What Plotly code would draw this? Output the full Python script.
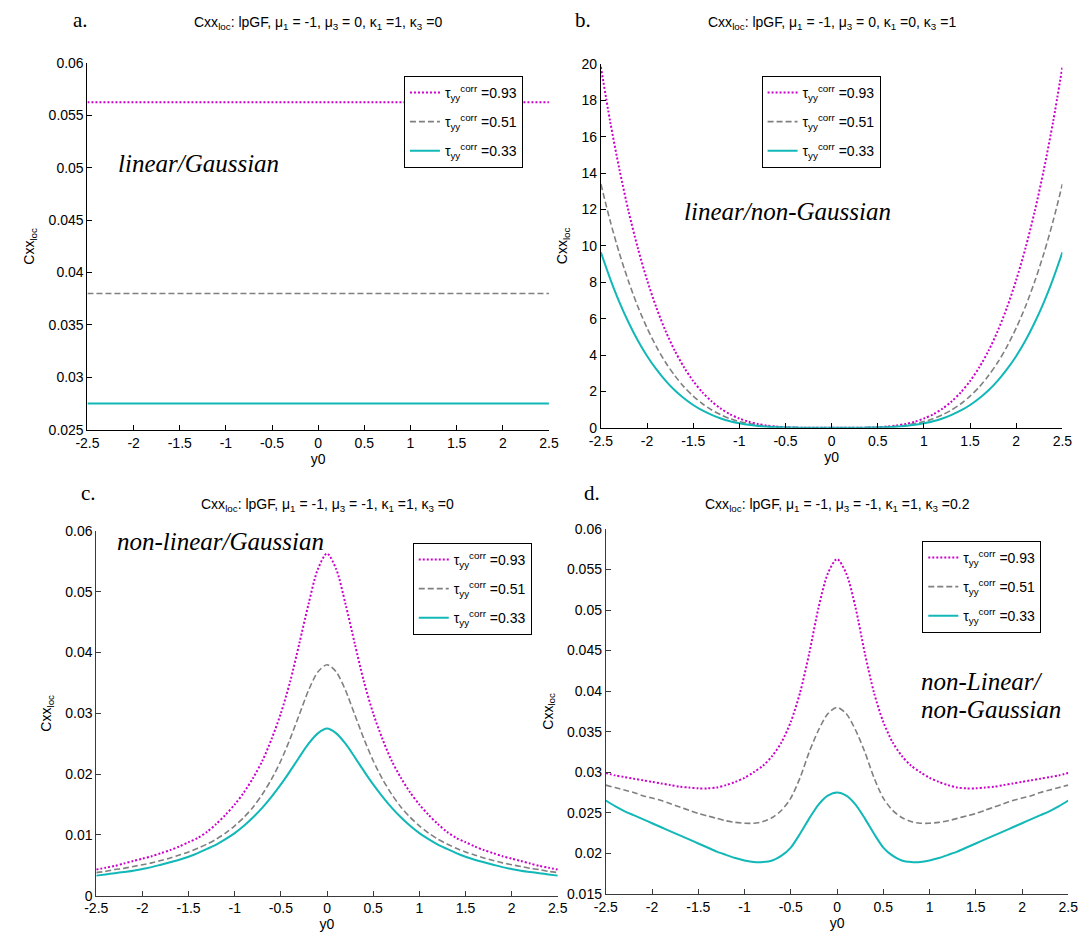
import plotly.graph_objects as go

W, H = 1092, 944

y0 = [-2.5, -2.4, -2.3, -2.2, -2.1, -2.0, -1.9, -1.8, -1.7, -1.6, -1.5, -1.4, -1.3, -1.2, -1.1,
      -1.0, -0.9, -0.8, -0.7, -0.6, -0.5, -0.4, -0.3, -0.2, -0.1, 0.0, 0.1, 0.2, 0.3, 0.4, 0.5,
      0.6, 0.7, 0.8, 0.9, 1.0, 1.1, 1.2, 1.3, 1.4, 1.5, 1.6, 1.7, 1.8, 1.9, 2.0, 2.1, 2.2, 2.3,
      2.4, 2.5]
y0_ends = [-2.5, 2.5]

tau_labels = ["0.93", "0.51", "0.33"]

# panel a: linear / Gaussian (constant)
a_093 = [0.05625, 0.05625]
a_051 = [0.0380, 0.0380]
a_033 = [0.0275, 0.0275]

# panel b: linear / non-Gaussian
b_093 = [19.84, 16.85, 14.22, 11.90, 9.88, 8.13, 6.62, 5.33, 4.24, 3.33, 2.57, 1.95, 1.45, 1.05, 0.74,
         0.51, 0.33, 0.21, 0.12, 0.07, 0.03, 0.01, 0.00, 0.00, 0.00, 0.00, 0.00, 0.00, 0.00, 0.01,
         0.03, 0.07, 0.12, 0.21, 0.33, 0.51, 0.74, 1.05, 1.45, 1.95, 2.57, 3.33, 4.24, 5.33, 6.62,
         8.13, 9.88, 11.90, 14.22, 16.85, 19.84]
b_051 = [13.40, 11.38, 9.60, 8.04, 6.67, 5.49, 4.47, 3.60, 2.87, 2.25, 1.74, 1.32, 0.98, 0.71, 0.50,
         0.34, 0.23, 0.14, 0.08, 0.04, 0.02, 0.01, 0.00, 0.00, 0.00, 0.00, 0.00, 0.00, 0.00, 0.01,
         0.02, 0.04, 0.08, 0.14, 0.23, 0.34, 0.50, 0.71, 0.98, 1.32, 1.74, 2.25, 2.87, 3.60, 4.47,
         5.49, 6.67, 8.04, 9.60, 11.38, 13.40]
b_033 = [9.65, 8.20, 6.91, 5.79, 4.80, 3.95, 3.22, 2.59, 2.06, 1.62, 1.25, 0.95, 0.71, 0.51, 0.36,
         0.25, 0.16, 0.10, 0.06, 0.03, 0.02, 0.01, 0.00, 0.00, 0.00, 0.00, 0.00, 0.00, 0.00, 0.01,
         0.02, 0.03, 0.06, 0.10, 0.16, 0.25, 0.36, 0.51, 0.71, 0.95, 1.25, 1.62, 2.06, 2.59, 3.22,
         3.95, 4.80, 5.79, 6.91, 8.20, 9.65]

# panel c: non-linear / Gaussian
c_093 = [0.0043, 0.0046, 0.0049, 0.0053, 0.0057, 0.0061, 0.0065, 0.0070, 0.0075, 0.0081, 0.0088,
         0.0095, 0.0105, 0.0118, 0.0133, 0.0150, 0.0170, 0.0194, 0.0222, 0.0258, 0.0300, 0.0352,
         0.0415, 0.0480, 0.0537, 0.0563, 0.0537, 0.0480, 0.0415, 0.0352, 0.0300, 0.0258, 0.0222,
         0.0194, 0.0170, 0.0150, 0.0133, 0.0118, 0.0105, 0.0095, 0.0088, 0.0081, 0.0075, 0.0070,
         0.0065, 0.0061, 0.0057, 0.0053, 0.0049, 0.0046, 0.0043]
c_051 = [0.0038, 0.0040, 0.0043, 0.0045, 0.0048, 0.0051, 0.0054, 0.0058, 0.0062, 0.0067, 0.0072,
         0.0078, 0.0085, 0.0093, 0.0103, 0.0115, 0.0129, 0.0146, 0.0167, 0.0192, 0.0222, 0.0258,
         0.0298, 0.0338, 0.0368, 0.0380, 0.0368, 0.0338, 0.0298, 0.0258, 0.0222, 0.0192, 0.0167,
         0.0146, 0.0129, 0.0115, 0.0103, 0.0093, 0.0085, 0.0078, 0.0072, 0.0067, 0.0062, 0.0058,
         0.0054, 0.0051, 0.0048, 0.0045, 0.0043, 0.0040, 0.0038]
c_033 = [0.0033, 0.0035, 0.0037, 0.0039, 0.0041, 0.0044, 0.0047, 0.0051, 0.0055, 0.0059, 0.0064,
         0.0070, 0.0077, 0.0084, 0.0093, 0.0103, 0.0115, 0.0129, 0.0145, 0.0163, 0.0183, 0.0205,
         0.0228, 0.0250, 0.0267, 0.0275, 0.0267, 0.0250, 0.0228, 0.0205, 0.0183, 0.0163, 0.0145,
         0.0129, 0.0115, 0.0103, 0.0093, 0.0084, 0.0077, 0.0070, 0.0064, 0.0059, 0.0055, 0.0051,
         0.0047, 0.0044, 0.0041, 0.0039, 0.0037, 0.0035, 0.0033]

# panel d: non-linear / non-Gaussian
d_093 = [0.0299, 0.0296, 0.0294, 0.0292, 0.0290, 0.0288, 0.0286, 0.0284, 0.0282, 0.0281, 0.0280,
         0.0280, 0.0281, 0.0284, 0.0288, 0.0293, 0.0300, 0.0308, 0.0320, 0.0337, 0.0362, 0.0398,
         0.0447, 0.0503, 0.0545, 0.0563, 0.0545, 0.0503, 0.0447, 0.0398, 0.0362, 0.0337, 0.0320,
         0.0308, 0.0300, 0.0293, 0.0288, 0.0284, 0.0281, 0.0280, 0.0280, 0.0281, 0.0282, 0.0284,
         0.0286, 0.0288, 0.0290, 0.0292, 0.0294, 0.0296, 0.0299]
d_051 = [0.0284, 0.0281, 0.0278, 0.0275, 0.0271, 0.0268, 0.0265, 0.0261, 0.0257, 0.0253, 0.0249,
         0.0246, 0.0243, 0.0240, 0.0238, 0.0237, 0.0237, 0.0239, 0.0244, 0.0253, 0.0268, 0.0293,
         0.0325, 0.0352, 0.0372, 0.0380, 0.0372, 0.0352, 0.0325, 0.0293, 0.0268, 0.0253, 0.0244,
         0.0239, 0.0237, 0.0237, 0.0238, 0.0240, 0.0243, 0.0246, 0.0249, 0.0253, 0.0257, 0.0261,
         0.0265, 0.0268, 0.0271, 0.0275, 0.0278, 0.0281, 0.0284]
d_033 = [0.0265, 0.0258, 0.0252, 0.0247, 0.0242, 0.0237, 0.0232, 0.0227, 0.0222, 0.0217, 0.0212,
         0.0207, 0.0202, 0.0198, 0.0194, 0.0191, 0.0189, 0.0189, 0.0191, 0.0197, 0.0207, 0.0224,
         0.0243, 0.0260, 0.0271, 0.0275, 0.0271, 0.0260, 0.0243, 0.0224, 0.0207, 0.0197, 0.0191,
         0.0189, 0.0189, 0.0191, 0.0194, 0.0198, 0.0202, 0.0207, 0.0212, 0.0217, 0.0222, 0.0227,
         0.0232, 0.0237, 0.0242, 0.0247, 0.0252, 0.0258, 0.0265]

for arr in (b_093, b_051, b_033, c_093, c_051, c_033, d_093, d_051, d_033):
    assert len(arr) == len(y0), len(arr)

x_ticks = [-2.5, -2, -1.5, -1, -0.5, 0, 0.5, 1, 1.5, 2, 2.5]
x_ticktext = ["-2.5", "-2", "-1.5", "-1", "-0.5", "0", "0.5", "1", "1.5", "2", "2.5"]
a_ticks = [0.025, 0.03, 0.035, 0.04, 0.045, 0.05, 0.055, 0.06]
a_ticktext = ["0.025", "0.03", "0.035", "0.04", "0.045", "0.05", "0.055", "0.06"]
b_ticks = [0, 2, 4, 6, 8, 10, 12, 14, 16, 18, 20]
b_ticktext = ["0", "2", "4", "6", "8", "10", "12", "14", "16", "18", "20"]
c_ticks = [0, 0.01, 0.02, 0.03, 0.04, 0.05, 0.06]
c_ticktext = ["0", "0.01", "0.02", "0.03", "0.04", "0.05", "0.06"]
d_ticks = [0.015, 0.02, 0.025, 0.03, 0.035, 0.04, 0.045, 0.05, 0.055, 0.06]
d_ticktext = ["0.015", "0.02", "0.025", "0.03", "0.035", "0.04", "0.045", "0.05", "0.055", "0.06"]

titles = [
    "Cxx<sub>loc</sub>: lpGF, μ<sub>1</sub> = -1, μ<sub>3</sub> = 0, κ<sub>1</sub> =1, κ<sub>3</sub> =0",
    "Cxx<sub>loc</sub>: lpGF, μ<sub>1</sub> = -1, μ<sub>3</sub> = 0, κ<sub>1</sub> =0, κ<sub>3</sub> =1",
    "Cxx<sub>loc</sub>: lpGF, μ<sub>1</sub> = -1, μ<sub>3</sub> = -1, κ<sub>1</sub> =1, κ<sub>3</sub> =0",
    "Cxx<sub>loc</sub>: lpGF, μ<sub>1</sub> = -1, μ<sub>3</sub> = -1, κ<sub>1</sub> =1, κ<sub>3</sub> =0.2",
]

MAG = "#CC00CC"
GRY = "#808080"
CYN = "#12B8B8"
styles = [dict(color=MAG, width=2, dash="2px,2px"),
          dict(color=GRY, width=1.6, dash="6px,3px"),
          dict(color=CYN, width=2, dash="solid")]

SANS = "Liberation Sans, Arial, sans-serif"
SERIF = "Liberation Serif"

# pixel boxes (left, right, top, bottom)
boxes = [(77, 548, 56, 429), (601, 1072, 57, 427), (86, 557, 532, 903), (606, 1078, 530, 901)]
leg_pos = [(400, 69), (765, 69), (409, 544), (929, 542)]

panels = [
    (y0_ends, [a_093, a_051, a_033], [0.025, 0.06], a_ticks, a_ticktext),
    (y0, [b_093, b_051, b_033], [0, 20], b_ticks, b_ticktext),
    (y0, [c_093, c_051, c_033], [0, 0.06], c_ticks, c_ticktext),
    (y0, [d_093, d_051, d_033], [0.015, 0.06], d_ticks, d_ticktext),
]

fig = go.Figure()
layout = dict(width=W, height=H, margin=dict(l=0, r=0, t=0, b=0),
              paper_bgcolor="white", plot_bgcolor="white", showlegend=True,
              font=dict(family=SANS, size=14, color="black"))
annotations = []

for i, (xs, series, yr, yt, ytt) in enumerate(panels):
    n = "" if i == 0 else str(i + 1)
    L, R, T, B = boxes[i]
    axcol = "black" if i < 2 else "#3a3a3a"
    legname = "legend" + n
    for j, ys in enumerate(series):
        ln = dict(styles[j])
        fig.add_trace(go.Scatter(
            x=xs, y=ys, mode="lines", line=dict(**ln, shape="spline", smoothing=0.8),
            name="τ<sub>yy</sub><sup>corr</sup> =" + tau_labels[j],
            xaxis="x" + n, yaxis="y" + n, legend=legname,
            legendgroup=f"g{i}{j}", showlegend=True))
    layout["xaxis" + n] = dict(
        domain=[L / W, R / W], range=[-2.5, 2.5], anchor="y" + n,
        showgrid=False, zeroline=False, showline=True, linecolor=axcol, linewidth=1,
        ticks="inside", ticklen=5, tickcolor=axcol, tickvals=x_ticks, ticktext=x_ticktext,
        tickfont=dict(family=SANS, size=14), title=dict(text="y0", font=dict(family=SANS, size=14), standoff=2))
    layout["yaxis" + n] = dict(
        domain=[1 - B / H, 1 - T / H], range=yr, anchor="x" + n,
        showgrid=False, zeroline=False, showline=True, linecolor=axcol, linewidth=1,
        ticks="inside", ticklen=5, tickcolor=axcol, tickvals=yt, ticktext=ytt,
        tickfont=dict(family=SANS, size=14),
        title=dict(text="Cxx<sub>loc</sub>", font=dict(family=SANS, size=14), standoff=10))
    lx, ly = leg_pos[i]
    layout[legname] = dict(
        x=lx / W, y=1 - ly / H, xanchor="left", yanchor="top", xref="paper", yref="paper",
        bgcolor="white", bordercolor="black", borderwidth=1,
        font=dict(family=SANS, size=14, color="black"), tracegroupgap=8,
        itemclick=False, itemdoubleclick=False)
    cx = (L + R) / 2
    ty = 15 if i < 2 else 506
    annotations.append(dict(text=titles[i], x=cx / W, y=1 - ty / H, xref="paper", yref="paper",
                            showarrow=False, xanchor="center", yanchor="middle",
                            font=dict(family=SANS, size=14)))

letters = [("a.", 70, 12), ("b.", 583, 12), ("c.", 78, 493), ("d.", 592, 493)]
for t, x, y in letters:
    annotations.append(dict(text=t, x=x / W, y=1 - y / H, xref="paper", yref="paper",
                            showarrow=False, xanchor="center", yanchor="middle",
                            font=dict(family=SERIF, size=21)))

labels = [("linear/Gaussian", 106, 158), ("linear/non-Gaussian", 684, 207),
          ("non-linear/Gaussian", 105, 543), ("non-Linear/", 926, 685), ("non-Gaussian", 926, 714)]
for t, x, y in labels:
    annotations.append(dict(text="<i>" + t + "</i>", x=x / W, y=1 - y / H, xref="paper", yref="paper",
                            showarrow=False, xanchor="left", yanchor="middle",
                            font=dict(family=SERIF, size=25)))

layout["annotations"] = annotations
fig.update_layout(**layout)
fig.write_html("out.html")
